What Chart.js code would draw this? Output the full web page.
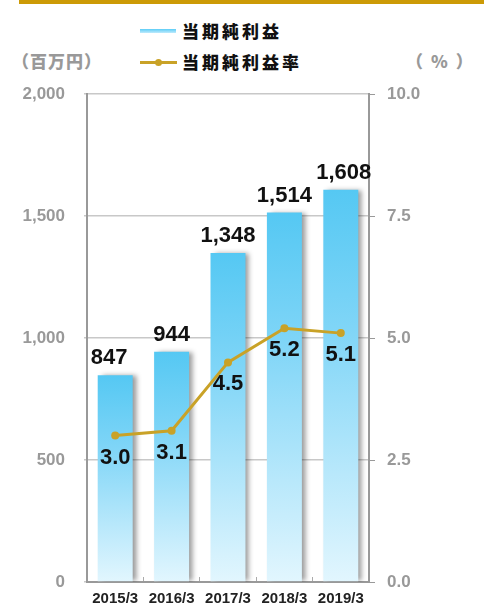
<!DOCTYPE html>
<html>
<head>
<meta charset="utf-8">
<script src="https://cdn.jsdelivr.net/npm/chart.js@4"></script>
<style>
  body { margin: 0; background: #fff; }
  #wrap { position: relative; width: 484px; height: 607px; }
  #topbar { position: absolute; left: 19px; top: 0; width: 465px; height: 4px; background: #cc9a06; }
  .txt { position: absolute; font-family: "Noto Sans CJK JP", sans-serif; font-weight: 900; white-space: nowrap; line-height: 1; }
  .leg { font-size: 17px; letter-spacing: 3px; color: #111; }
  .unit { font-size: 17px; color: #999; letter-spacing: 1px; }
  canvas { position: absolute; left: 0; top: 0; }
</style>
</head>
<body>
<div id="wrap">
  <div id="topbar"></div>
  <div style="position:absolute;left:140px;top:29px;width:36px;height:4px;background:linear-gradient(#5ccdf7,#bfeafc);"></div>
  <div class="txt leg" style="left:182px;top:22px;">当期純利益</div>
  <div style="position:absolute;left:140px;top:61px;width:37px;height:3px;background:#c9a227;"></div>
  <div style="position:absolute;left:155px;top:59px;width:7px;height:7px;border-radius:50%;background:#c9a227;"></div>
  <div class="txt leg" style="left:182px;top:53px;">当期純利益率</div>
  <div class="txt unit" style="left:12px;top:52px;">（百万円）</div>
  <div class="txt unit" style="left:406px;top:52px;letter-spacing:8px;">（%）</div>
  <canvas id="c" width="484" height="607"></canvas>
</div>
<script>
const categories = ["2015/3", "2016/3", "2017/3", "2018/3", "2019/3"];
const netIncome = [847, 944, 1348, 1514, 1608];
const netMargin = [3.0, 3.1, 4.5, 5.2, 5.1];
const leftTicks = [0, 500, 1000, 1500, 2000];
const rightTicks = [0, 2.5, 5.0, 7.5, 10.0];

const gold = "#c9a227";

// each bar fades from saturated cyan at its own top to pale at the base
function barGradient(context) {
    const chart = context.chart;
    const area = chart.chartArea;
    const yScale = chart.scales.y;
    if (!area || !yScale || context.raw == null) return "#8fdcfa";
    const top = yScale.getPixelForValue(context.raw);
    const g = chart.ctx.createLinearGradient(0, top, 0, area.bottom);
    g.addColorStop(0, "#55c8f3");
    g.addColorStop(0.35, "#7fd5f7");
    g.addColorStop(1, "#e2f6fe");
    return g;
}

const shadowPlugin = {
    id: "barShadow",
    beforeDatasetDraw(chart, args) {
        if (args.index !== 0) return;
        const ctx = chart.ctx;
        ctx.save();
        ctx.shadowColor = "rgba(0,0,0,0.4)";
        ctx.shadowBlur = 5;
        ctx.shadowOffsetX = 4;
        ctx.shadowOffsetY = 0;
    },
    afterDatasetDraw(chart, args) {
        if (args.index !== 0) return;
        chart.ctx.restore();
    }
};

const labelPlugin = {
    id: "valueLabels",
    afterDatasetsDraw(chart) {
        const ctx = chart.ctx;
        ctx.save();
        ctx.font = "bold 22px 'Liberation Sans', Arial, sans-serif";
        ctx.fillStyle = "#111";
        ctx.textAlign = "center";
        chart.getDatasetMeta(0).data.forEach((bar, i) => {
            ctx.textBaseline = "bottom";
            ctx.fillText(netIncome[i].toLocaleString("en-US"), bar.x - (i === 0 ? 6 : 0) + (i === 4 ? 3 : 0), bar.y - 6);
        });
        chart.getDatasetMeta(1).data.forEach((pt, i) => {
            ctx.textBaseline = "middle";
            ctx.fillText(netMargin[i].toFixed(1), pt.x, pt.y + 22);
        });
        ctx.restore();
    }
};

const tickFont = { family: "'Liberation Sans', Arial, sans-serif", size: 17, weight: "bold" };
const xFont = { family: "'Liberation Sans', Arial, sans-serif", size: 15, weight: "bold" };

// keep the tick padding from squeezing the plot vertically
function fixVertical(width) {
    return scale => {
        scale.width = width;
        scale.paddingTop = 0;
        scale.paddingBottom = 0;
    };
}

new Chart(document.getElementById("c"), {
    data: {
        labels: categories,
        datasets: [{
            type: "bar",
            label: "当期純利益",
            data: netIncome,
            yAxisID: "y",
            backgroundColor: barGradient,
            barPercentage: 0.62,
            categoryPercentage: 1,
            order: 2
        }, {
            type: "line",
            label: "当期純利益率",
            data: netMargin,
            yAxisID: "y1",
            borderColor: gold,
            backgroundColor: gold,
            borderWidth: 3,
            pointRadius: 4,
            pointBackgroundColor: gold,
            pointBorderWidth: 0,
            tension: 0,
            order: 1
        }]
    },
    options: {
        responsive: false,
        animation: false,
        layout: { padding: { top: 94, left: 0, right: 0, bottom: 0 } },
        plugins: {
            legend: { display: false },
            tooltip: { enabled: false }
        },
        scales: {
            x: {
                grid: { display: true, drawOnChartArea: false, offset: true, tickLength: -5, color: "#aaa" },
                border: { color: "#999", width: 2 },
                ticks: { color: "#222", font: xFont, padding: 13, maxRotation: 0, autoSkip: false },
                afterFit(scale) { scale.height = 25; }
            },
            y: {
                position: "left",
                min: 0,
                max: 2000,
                afterBuildTicks(scale) { scale.ticks = leftTicks.map(v => ({ value: v })); },
                grid: { color: "#c8c8c8", lineWidth: 1.5, tickLength: 3 },
                border: { color: "#999", width: 2 },
                ticks: {
                    color: "#999",
                    font: tickFont,
                    padding: 19,
                    callback: v => v.toLocaleString("en-US")
                },
                afterFit: fixVertical(87)
            },
            y1: {
                position: "right",
                min: 0,
                max: 10,
                afterBuildTicks(scale) { scale.ticks = rightTicks.map(v => ({ value: v })); },
                grid: { drawOnChartArea: false, color: "#999", tickLength: 6 },
                border: { color: "#999", width: 2 },
                ticks: {
                    color: "#999",
                    font: tickFont,
                    padding: 12,
                    callback: v => v.toFixed(1)
                },
                afterFit: fixVertical(115)
            }
        }
    },
    plugins: [shadowPlugin, labelPlugin]
});
</script>
</body>
</html>
